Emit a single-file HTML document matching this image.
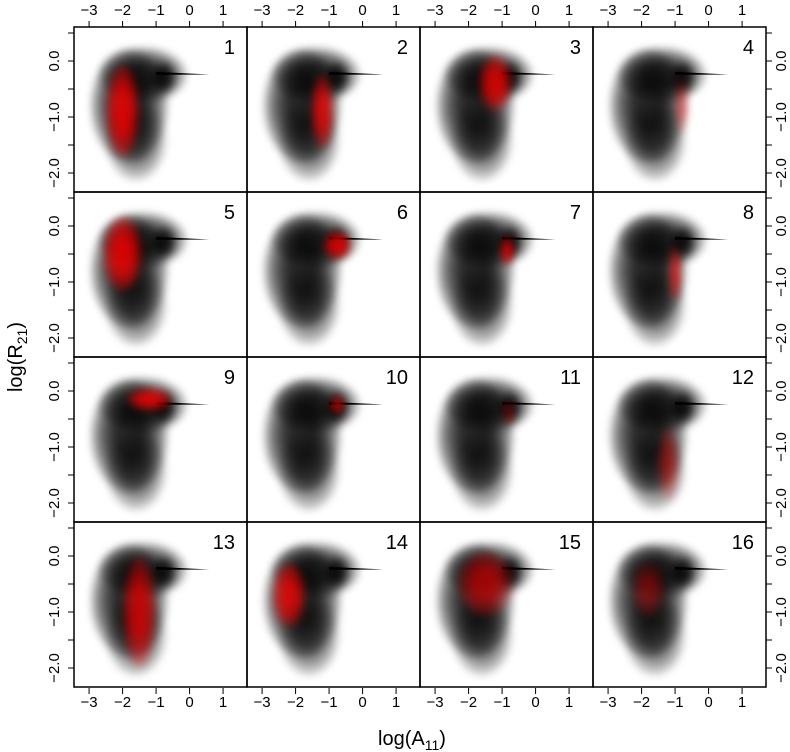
<!DOCTYPE html>
<html><head><meta charset="utf-8"><style>
html,body{margin:0;padding:0;background:#fff}
svg{display:block;font-family:"Liberation Sans",sans-serif}
</style></head><body>
<svg id="chart" width="790" height="752" viewBox="0 0 790 752"></svg>
<script>
// ---- data (data units: log A11, log R21) ----
const xTicks = [-3,-2,-1,0,1];
const yTicks = [0.5,0,-0.5,-1,-1.5,-2];
const yLabels = ["","0.0","","-1.0","","-2.0"];
const panelIds = [1,2,3,4,5,6,7,8,9,10,11,12,13,14,15,16];
// background (black) population components: [cx, cy, sx, sy, strength]
const blackComps = [
  [-1.8,-0.8,0.7,0.62,1.0],
  [-1.4,-0.25,0.8,0.3,0.9],
  [-1.6,-1.4,0.55,0.45,0.6],
  [-0.75,-0.3,0.22,0.18,1.0]
];
const streakX = [-1.0,0.6];
const streakY = [-0.22,-0.24];
// red subset per panel: [cx, cy, sx, sy, strength]
const redCx = [-2.0,-1.2,-1.2,-0.8,-2.0,-0.75,-0.85,-1.0,-1.2,-0.75,-0.8,-1.2,-1.5,-2.2,-1.5,-1.8];
const redCy = [-0.9,-0.9,-0.4,-0.8,-0.5,-0.35,-0.45,-0.85,-0.15,-0.25,-0.4,-1.3,-1.0,-0.7,-0.5,-0.6];
const redSx = [0.3,0.2,0.3,0.12,0.35,0.25,0.12,0.1,0.4,0.12,0.1,0.2,0.3,0.3,0.5,0.3];
const redSy = [0.5,0.4,0.3,0.3,0.4,0.15,0.15,0.3,0.12,0.1,0.15,0.4,0.6,0.35,0.35,0.3];
const redStr = [1.0,0.9,0.9,0.4,1.0,1.0,1.0,0.8,1.0,0.8,0.35,0.4,0.8,0.9,0.6,0.35];

const NS="http://www.w3.org/2000/svg";
const svg=document.getElementById('chart');
function mk(tag,attrs,parent){const e=document.createElementNS(NS,tag);for(const k in attrs)e.setAttribute(k,attrs[k]);(parent||svg).appendChild(e);return e;}
const colL=[74,247,420,593], rowT=[27,192,357,522], PW=173, PH=165;
const xs=(x,l)=>l+(x+3.45)*33.5;
const ys=(y,t)=>t+34-y*56;
const defs=mk('defs',{});
const flt=mk('filter',{id:'blur',x:'-50%',y:'-50%',width:'200%',height:'200%'},defs);
mk('feGaussianBlur',{stdDeviation:4},flt);
function blob(g,c,l,t,color,base,ks){
  const [cx,cy,sx,sy,s]=c;
  ks.forEach(k=>{
    const e=mk('ellipse',{cx:xs(cx,l),cy:ys(cy,t),rx:sx*33.5*k,ry:sy*56*k,fill:color,'fill-opacity':Math.min(1,base*s)},g);
    
    
  });
}
panelIds.forEach((id,i)=>{
  const r=Math.floor(i/4), c=i%4, l=colL[c], t=rowT[r];
  const cp=mk('clipPath',{id:'cp'+i},defs);
  mk('rect',{x:l,y:t,width:PW,height:PH},cp);
  const g=mk('g',{'clip-path':'url(#cp'+i+')'});
  
  
  const gb=mk('g',{filter:'url(#blur)'},g);
  blackComps.forEach(bc=>blob(gb,bc,l,t,'#000',0.36,[1.6,1.3,1.0,0.7]));
  const st=mk('path',{d:`M${xs(streakX[0],l)},${ys(streakY[0],t)-1.5} L${xs(streakX[1],l)},${ys(streakY[1],t)} L${xs(streakX[0],l)},${ys(streakY[0],t)+1.5}Z`,fill:'#000'},g);
  
  
  const gr=mk('g',{filter:'url(#blur)'},g);
  blob(gr,[redCx[i],redCy[i],redSx[i],redSy[i],redStr[i]],l,t,'#f00',0.42,[1.6,1.2,0.8]);
  const fr=mk('rect',{x:l,y:t,width:PW,height:PH,fill:'none',stroke:'#000','stroke-width':1.5});
  
  
  const tx=mk('text',{x:l+PW-12,y:t+27,'text-anchor':'end','font-size':20});
  tx.textContent=id;
  
  
});
colL.forEach(l=>{
  [[27,-6,15],[688,6,707]].forEach(([y0,d,ty])=>{
    xTicks.forEach(v=>{
      const x=xs(v,l);
      mk('line',{x1:x,y1:y0,x2:x,y2:y0+d,stroke:'#000'});
      const tx=mk('text',{x:x,y:ty,'text-anchor':'middle','font-size':15});
      tx.textContent=v<0?'\u2212'+(-v):String(v);
      
      
    });
  });
});
rowT.forEach(t=>{
  [[74,-6,59],[766,6,786]].forEach(([x0,d,tx0])=>{
    yTicks.forEach((v,j)=>{
      const y=ys(v,t);
      mk('line',{x1:x0,y1:y,x2:x0+d,y2:y,stroke:'#000'});
      if(yLabels[j]){
        const tx=mk('text',{x:tx0,y:y,'text-anchor':'middle','font-size':15,transform:`rotate(-90 ${tx0} ${y})`});
        tx.textContent=yLabels[j].replace('-','\u2212');
        
        
      }
    });
  });
});
const xt=mk('text',{x:412,y:745,'text-anchor':'middle','font-size':20});
xt.innerHTML='log(A<tspan font-size="14" dy="5">11</tspan><tspan dy="-5">)</tspan>';


const yt=mk('text',{x:22,y:357,'text-anchor':'middle','font-size':20,transform:'rotate(-90 22 357)'});
yt.innerHTML='log(R<tspan font-size="14" dy="5">21</tspan><tspan dy="-5">)</tspan>';


</script>
</body></html>
